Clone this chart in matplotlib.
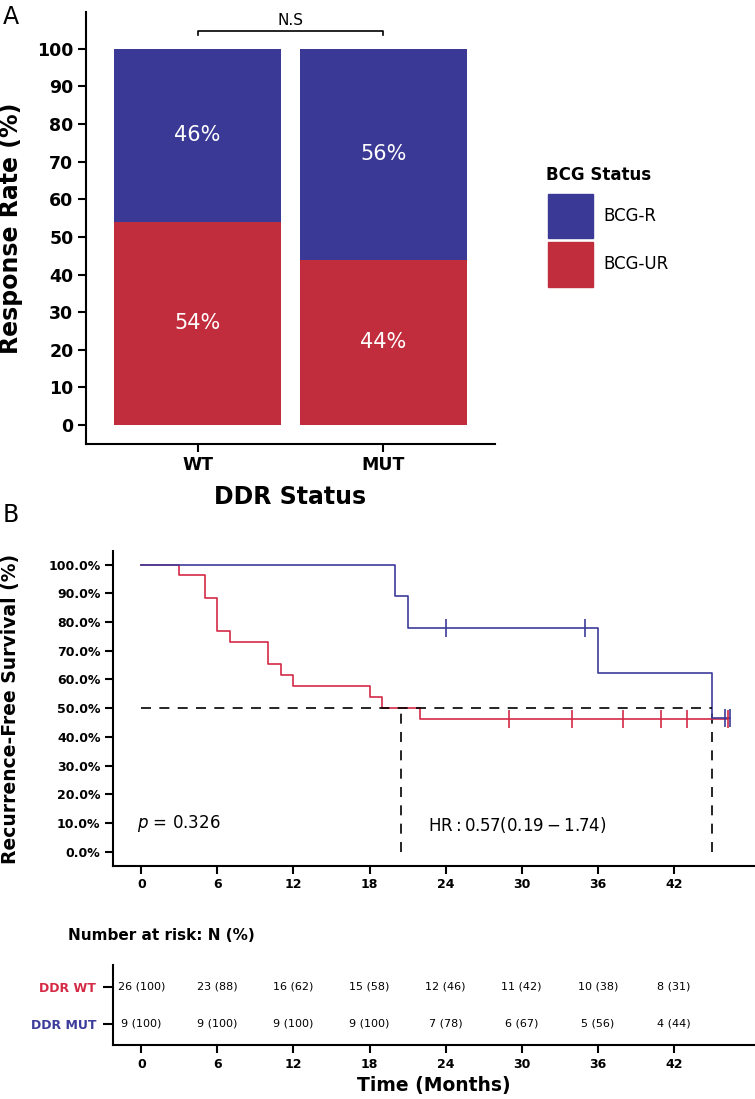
import numpy as np
import matplotlib
matplotlib.use('Agg')
import matplotlib.pyplot as plt
from matplotlib.patches import Patch

# ---- panel A data
ddr_groups = ['WT', 'MUT']
bcg_ur = [54, 44]
bcg_r = [46, 56]

# ---- panel B data (Kaplan-Meier steps)
wt_times = [0, 3, 5, 6, 7, 10, 11, 12, 18, 19, 22, 46.3]
wt_surv = [100, 96.2, 88.5, 76.9, 73.1, 65.4, 61.5, 57.7, 53.8, 50.0, 46.2, 46.2]
wt_censor_t = [29, 34, 38, 41, 43, 46.3]
mut_times = [0, 20, 21, 36, 45, 46.4]
mut_surv = [100, 88.9, 77.8, 62.2, 46.7, 46.7]
mut_censor_t = [24, 35, 46.0, 46.4]
median_wt = 20.5
median_mut = 45

# ---- risk table
risk_times = [0, 6, 12, 18, 24, 30, 36, 42]
wt_n = [26, 23, 16, 15, 12, 11, 10, 8]
wt_pct = [100, 88, 62, 58, 46, 42, 38, 31]
mut_n = [9, 9, 9, 9, 7, 6, 5, 4]
mut_pct = [100, 100, 100, 100, 78, 67, 56, 44]

BLUE_BAR = '#3A3A96'
RED_BAR = '#C22D3E'
BLUE = '#3C3C9A'
RED = '#D42A45'

W, H = 755, 1099
fig = plt.figure(figsize=(W / 100, H / 100), dpi=100)


def rect(l, t, r, b):
    return [l / W, 1 - b / H, (r - l) / W, (b - t) / H]


# ================= Panel A
ax = fig.add_axes(rect(86, 12, 495, 444))
x = np.arange(len(ddr_groups))
ax.bar(x, bcg_ur, width=0.9, color=RED_BAR)
ax.bar(x, bcg_r, width=0.9, bottom=bcg_ur, color=BLUE_BAR)
for i in range(len(x)):
    ax.text(x[i], bcg_ur[i] / 2, f'{bcg_ur[i]}%', color='white', fontsize=15, ha='center', va='center')
    ax.text(x[i], bcg_ur[i] + bcg_r[i] / 2, f'{bcg_r[i]}%', color='white', fontsize=15, ha='center', va='center')

ax.set_xlim(-0.6, 1.6)
ax.set_ylim(-5.05, 109.8)
ax.set_yticks(range(0, 101, 10))
ax.set_xticks(x)
ax.set_xticklabels(ddr_groups)
for edge in ['top', 'right']:
    ax.spines[edge].set_visible(False)
for edge in ['left', 'bottom']:
    ax.spines[edge].set_linewidth(1.5)
ax.tick_params(width=1.5, length=6, labelsize=12.5, pad=3)
for lab in ax.get_xticklabels() + ax.get_yticklabels():
    lab.set_fontweight('bold')
ax.set_ylabel('Response Rate (%)', fontsize=17, fontweight='bold', va='center')
ax.yaxis.set_label_coords(-0.183, 0.5)
ax.set_xlabel('DDR Status', fontsize=17, fontweight='bold', va='center')
ax.xaxis.set_label_coords(0.5, -0.123)

# significance bracket
ax.plot([0, 0, 1, 1], [103.7, 104.8, 104.8, 103.7], color='black', lw=1.2, clip_on=False)
ax.text(0.5, 107.6, 'N.S', fontsize=11, ha='center', va='center')

handles = [Patch(color=BLUE_BAR, label='BCG-R'), Patch(color=RED_BAR, label='BCG-UR')]
fig.legend(handles=handles, loc='upper left',
           bbox_to_anchor=(548 / W, 1 - 194 / H), frameon=False, fontsize=12,
           handlelength=2.7, handleheight=3.7, labelspacing=0.25, handletextpad=0.65,
           borderpad=0, borderaxespad=0)
fig.text(546 / W, 1 - 175 / H, 'BCG Status', fontsize=12, fontweight='bold', ha='left', va='center')

fig.text(3 / W, 1 - 17 / H, 'A', fontsize=17, va='center', ha='left')
fig.text(3 / W, 1 - 515 / H, 'B', fontsize=17, va='center', ha='left')

# ================= Panel B
kx = (-2.23, 48.4)
bx = fig.add_axes(rect(113, 551, 755, 866))
bx.step(wt_times, wt_surv, where='post', color=RED, lw=1.2, zorder=3)
bx.step(mut_times, mut_surv, where='post', color=BLUE, lw=1.2, zorder=3)
wt_c_y = [wt_surv[np.searchsorted(wt_times, t, side='right') - 1] for t in wt_censor_t]
mut_c_y = [mut_surv[np.searchsorted(mut_times, t, side='right') - 1] for t in mut_censor_t]
bx.plot(wt_censor_t, wt_c_y, ls='none', marker='|', ms=13, mew=1.2, color=RED, zorder=3)
bx.plot(mut_censor_t, mut_c_y, ls='none', marker='|', ms=13, mew=1.2, color=BLUE, zorder=4)

dash = (0, (6, 5))
bx.plot([0, median_mut], [50, 50], color='black', lw=1.2, ls=dash, zorder=3.5)
bx.plot([median_wt, median_wt], [0, 50], color='black', lw=1.2, ls=dash, zorder=3.5)
bx.plot([median_mut, median_mut], [0, 50], color='black', lw=1.2, ls=dash, zorder=2)

bx.text(-0.3, 10, r'$p$ = 0.326', fontsize=12, ha='left', va='center')
bx.text(22.6, 9.3, r'$\mathrm{HR}:0.57\left(0.19-1.74\right)$', fontsize=12, ha='left', va='center')

bx.set_xlim(*kx)
bx.set_ylim(-4.95, 104.7)
bx.set_xticks(risk_times)
bx.set_yticks(range(0, 101, 10))
bx.set_yticklabels([f'{v:.1f}%' for v in range(0, 101, 10)])
for edge in ['top', 'right']:
    bx.spines[edge].set_visible(False)
for edge in ['left', 'bottom']:
    bx.spines[edge].set_linewidth(1.5)
bx.tick_params(width=1.5, length=6, labelsize=9, pad=3)
for lab in bx.get_xticklabels() + bx.get_yticklabels():
    lab.set_fontweight('bold')
bx.set_ylabel('Recurrence-Free Survival (%)', fontsize=13.5, fontweight='bold', va='center')
bx.yaxis.set_label_coords(-0.159, 0.5)

# ================= risk table
tx = fig.add_axes(rect(113, 965, 755, 1045))
for i, t in enumerate(risk_times):
    tx.text(t, 2, f'{wt_n[i]} ({wt_pct[i]})', fontsize=8, ha='center', va='center')
    tx.text(t, 1, f'{mut_n[i]} ({mut_pct[i]})', fontsize=8, ha='center', va='center')
tx.set_xlim(*kx)
tx.set_ylim(0.43, 2.59)
tx.set_xticks(risk_times)
tx.set_yticks([2, 1])
tx.set_yticklabels(['DDR WT', 'DDR MUT'])
for lab, c in zip(tx.get_yticklabels(), [RED, BLUE]):
    lab.set_color(c)
for edge in ['top', 'right']:
    tx.spines[edge].set_visible(False)
for edge in ['left', 'bottom']:
    tx.spines[edge].set_linewidth(1.5)
tx.tick_params(width=1.5, length=6, labelsize=9, pad=3)
tx.tick_params(axis='y', length=7, pad=5)
for lab in tx.get_xticklabels() + tx.get_yticklabels():
    lab.set_fontweight('bold')
tx.text(-45 / 642, 1 + 30 / 80, 'Number at risk: N (%)', transform=tx.transAxes,
        fontsize=11, fontweight='bold', ha='left', va='center')
tx.set_xlabel('Time (Months)', fontsize=13.5, fontweight='bold', va='center')
tx.xaxis.set_label_coords(0.5, -0.5)

fig.savefig('out.png', dpi=100)
